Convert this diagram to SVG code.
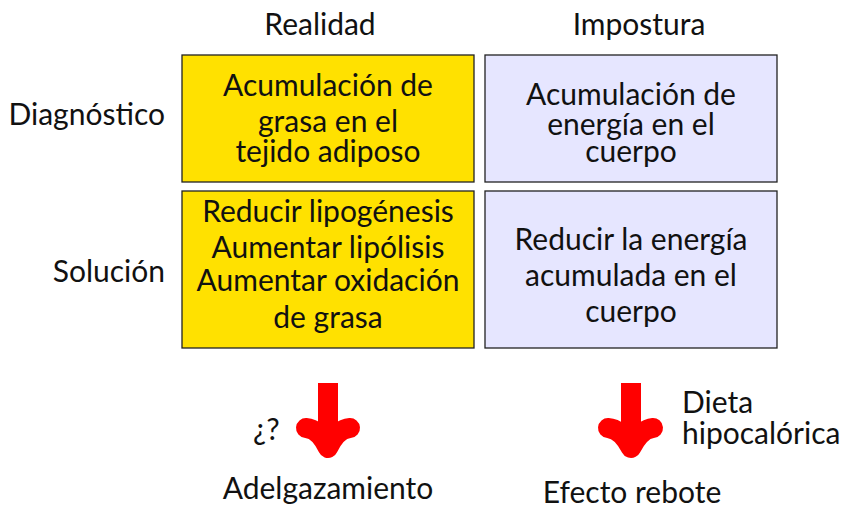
<svg xmlns="http://www.w3.org/2000/svg" width="842" height="512" viewBox="0 0 842 512">
<style>
text{font-family:Lato,"Open Sans",sans-serif;font-size:30px;fill:#111}
.c{text-anchor:middle}
.y{fill:#FFE100;stroke:#222;stroke-width:1.3}
.b{fill:#E6E6FF;stroke:#222;stroke-width:1.3}
.shaft{fill:#FF0000}
.head{fill:none;stroke:#FF0000;stroke-width:20;stroke-linecap:round;stroke-linejoin:round}
</style>
<rect width="842" height="512" fill="#fff"/>
<g id="labels">
<text class="c" x="320" y="35">Realidad</text>
<text class="c" x="639" y="35">Impostura</text>
<text x="165" y="125" text-anchor="end">Diagnóstico</text>
<text x="165" y="282" text-anchor="end">Solución</text>
</g>
<g id="real-diag">
<rect class="y" x="182" y="55" width="292" height="127"/>
<text class="c" x="328" y="96">Acumulación de</text>
<text class="c" x="328" y="132">grasa en el</text>
<text class="c" x="328" y="162">tejido adiposo</text>
</g>
<g id="real-sol">
<rect class="y" x="182" y="191" width="292" height="157"/>
<text class="c" x="328" y="222">Reducir lipogénesis</text>
<text class="c" x="328" y="258">Aumentar lipólisis</text>
<text class="c" x="328" y="291">Aumentar oxidación</text>
<text class="c" x="328" y="328">de grasa</text>
</g>
<g id="imp-diag">
<rect class="b" x="485" y="55" width="292" height="127"/>
<text class="c" x="631" y="105">Acumulación de</text>
<text class="c" x="631" y="135">energía en el</text>
<text class="c" x="631" y="162">cuerpo</text>
</g>
<g id="imp-sol">
<rect class="b" x="485" y="191" width="292" height="157"/>
<text class="c" x="631" y="250">Reducir la energía</text>
<text class="c" x="631" y="286">acumulada en el</text>
<text class="c" x="631" y="322">cuerpo</text>
</g>
<g id="connectors">
<rect class="shaft" x="318" y="383" width="20" height="60"/>
<path class="head" d="M306,428 Q319,429 328,448 Q337,429 350,428"/>
<rect class="shaft" x="621" y="383" width="20" height="60"/>
<path class="head" d="M608,428 Q621,429 631,448 Q641,429 653,428"/>
</g>
<g id="outcomes">
<text x="253" y="440">¿?</text>
<text class="c" x="328" y="499">Adelgazamiento</text>
<text class="c" x="632" y="503">Efecto rebote</text>
<text x="682" y="413">Dieta</text>
<text x="682" y="444">hipocalórica</text>
</g>
</svg>
